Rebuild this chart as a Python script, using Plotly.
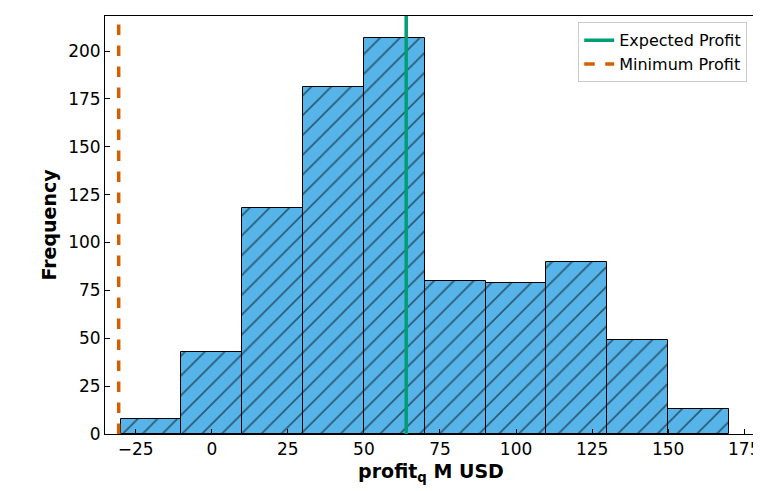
import plotly.graph_objects as go

bin_edges = [-30, -10, 10, 30, 50, 70, 90, 110, 130, 150, 170]
counts = [8, 43, 118, 181, 207, 80, 79, 90, 49, 13]
expected_profit = 63.9
minimum_profit = -30.6

centers = [(a + b) / 2 for a, b in zip(bin_edges[:-1], bin_edges[1:])]
widths = [b - a for a, b in zip(bin_edges[:-1], bin_edges[1:])]

fig = go.Figure()
fig.add_trace(go.Bar(x=centers, y=counts, width=widths, showlegend=False,
                     marker=dict(color="#56B4E9", line=dict(color="black", width=1),
                                 pattern=dict(shape="/", fgcolor="black", size=14, solidity=0.12))))
ymax = 218.3
fig.add_trace(go.Scatter(x=[expected_profit]*2, y=[0, ymax], mode="lines",
                         line=dict(color="#009E73", width=3.5), name="Expected Profit"))
fig.add_trace(go.Scatter(x=[minimum_profit]*2, y=[0, ymax], mode="lines",
                         line=dict(color="#D55E00", width=3.5, dash="dash"), name="Minimum Profit"))

ax = dict(showline=True, mirror=True, linecolor="black", linewidth=1, ticks="inside",
          ticklen=5, tickcolor="black", showgrid=False, zeroline=False, automargin=False,
          tickfont=dict(size=17, color="black"))
fig.update_layout(
    width=761, height=491, margin=dict(l=97, r=12, t=8, b=65, autoexpand=False),
    plot_bgcolor="white", paper_bgcolor="white", bargap=0,
    font=dict(family="DejaVu Sans", color="black"),
    xaxis=dict(ax, range=[-35.1, 179.2], tickvals=[-25, 0, 25, 50, 75, 100, 125, 150, 175],
               ticktext=["−25", "0", "25", "50", "75", "100", "125", "150", "175"],
               title=dict(text="<b>profit<sub>q</sub> M USD</b>", font=dict(size=19), standoff=6)),
    yaxis=dict(ax, range=[0, ymax], tickvals=list(range(0, 201, 25)),
               title=dict(text="<b>Frequency</b>", font=dict(size=19), standoff=6)),
    legend=dict(x=0.985, y=0.985, xanchor="right", yanchor="top", bgcolor="white",
                bordercolor="#cccccc", borderwidth=1, font=dict(size=16)),
)
fig.write_html("out.html")
